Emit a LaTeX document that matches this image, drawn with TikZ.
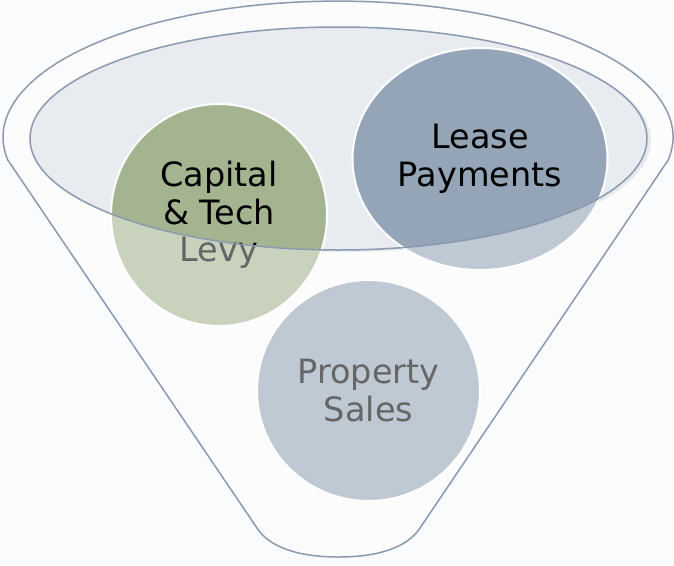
\documentclass[tikz,border=0pt]{standalone}
\usepackage{fontspec}
\setmainfont{DejaVu Sans}
\usetikzlibrary{shapes.geometric}

\definecolor{pagebg}{HTML}{FAFBFC}
\definecolor{funnelline}{HTML}{8A9AB0}
\definecolor{rimfill}{HTML}{E8ECF0}
\definecolor{rimshade}{HTML}{D6DBE2}
\definecolor{levygreen}{HTML}{A5B490}
\definecolor{slateblue}{HTML}{95A5B8}

\tikzset{
  ball/.style={ellipse, draw=white, line width=2pt, inner sep=0pt, align=center,
    font=\fontsize{33.5}{37.5}\selectfont},
  rim/.style={draw=funnelline, line width=1.5pt},
  veil/.style={fill=white, opacity=0.4, even odd rule}
}

\begin{document}
\begin{tikzpicture}[x=1pt,y=-1pt]
\def\rimx{338.5}
\def\rimy{138.5}
\def\funnel{(668.2,160) arc[start angle=-9.7, end angle=189.7, x radius=335pt, y radius=136pt]
  -- (257,528) .. controls (270,548) and (300,557) .. (338.5,557)
  .. controls (377,557) and (407,548) .. (420,528) -- cycle}
\def\rim{(\rimx,\rimy) ellipse[x radius=308.5pt, y radius=111.5pt]}

\fill[pagebg] (0,0) rectangle (674,565);
\useasboundingbox (0,0) rectangle (674,565);

\fill[rimshade] (\rimx+4,\rimy+2) ellipse[x radius=308.5pt, y radius=111.5pt];
\fill[rimfill] \rim;

\node[ball, fill=levygreen, minimum width=216pt, minimum height=222pt] (levy) at (219,215) {Capital\\\& Tech\\Levy};
\node[ball, fill=slateblue, minimum width=255pt, minimum height=222pt] (lease) at (480,159) {Lease\\Payments};
\node[ball, fill=slateblue, minimum width=223pt, minimum height=221pt] (sales) at (368.5,390.5) {Property\\Sales};

\path[veil] \funnel \rim;
\draw[rim] \funnel;
\draw[rim] \rim;
\end{tikzpicture}
\end{document}
